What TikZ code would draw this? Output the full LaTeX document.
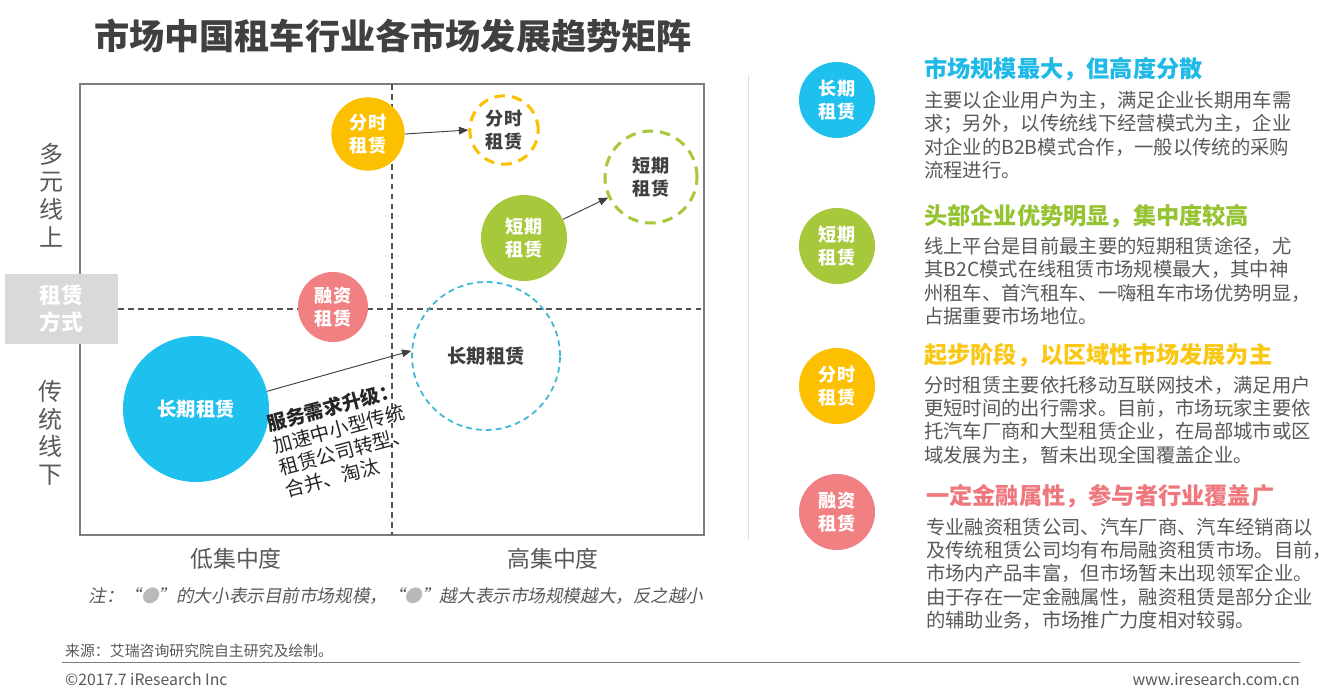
\documentclass[tikz,border=0pt]{standalone}
\usepackage{fontspec}
\setmainfont{Noto Sans CJK SC}
\newfontfamily\slantcjk[FakeSlant=0.2]{Noto Sans CJK SC}
\usepackage{xcolor}
\usetikzlibrary{arrows.meta}
\definecolor{cblue}{RGB}{30,192,238}
\definecolor{cgreen}{RGB}{166,200,58}
\definecolor{cyellow}{RGB}{252,192,0}
\definecolor{cpink}{RGB}{240,128,130}
\definecolor{rblue}{RGB}{60,185,215}
\definecolor{hblue}{RGB}{30,185,230}
\definecolor{hgreen}{RGB}{150,195,50}
\definecolor{hyellow}{RGB}{250,200,20}
\definecolor{hpink}{RGB}{238,120,125}
\definecolor{txtgray}{RGB}{89,89,89}
\definecolor{ttlgray}{RGB}{64,64,64}
\definecolor{boxgray}{RGB}{217,217,217}
\definecolor{linegray}{RGB}{125,125,125}

\begin{document}
\begin{tikzpicture}[x=0.03cm, y=-0.03cm,
        every node/.style={inner sep=0pt, text=txtgray},
        ball/.style={circle, text=white, align=center, font=\fontsize{15.5}{19.6}\selectfont\bfseries},
        ring/.style={circle, draw, dash pattern=on 9pt off 6pt, line width=2.6pt, text=ttlgray, align=center, font=\fontsize{15.5}{19.6}\selectfont\bfseries},
        arr/.style={-{Triangle[length=8pt, width=6.5pt]}, line width=0.8pt, draw=ttlgray},
        cross/.style={draw=ttlgray!90, line width=1.1pt, dash pattern=on 5pt off 3.5pt},
        axis/.style={align=center, font=\fontsize{20.5}{23.5}\selectfont},
        head/.style={anchor=west, font=\fontsize{19.8}{22}\selectfont\bfseries},
        body/.style={anchor=north west, align=left, font=\fontsize{16.5}{19.8}\selectfont}]
      \useasboundingbox[fill=white] (0,0) rectangle (1336,699);

      % title
      \node[text=ttlgray, font=\fontsize{30}{33}\selectfont\bfseries] (title) at (393,36) {市场中国租车行业各市场发展趋势矩阵};

      % matrix frame and cross lines
      \draw[linegray, line width=0.9pt] (80,84) rectangle (704,535);
      \coordinate (vtop) at (392,84);
      \coordinate (vbot) at (392,535);
      \coordinate (hleft) at (118,309);
      \coordinate (hright) at (704,309);
      \draw[cross] (vtop) -- (vbot);
      \draw[cross] (hleft) -- (hright);

      \node[fill=boxgray, minimum width=113*0.03cm, minimum height=70*0.03cm, text=white, align=center,
            font=\fontsize{18.5}{23.5}\selectfont\bfseries] (mode) at (61.5,309) {租赁\\方式};
      \node[axis] (online) at (52,195) {多\\元\\线\\上};
      \node[axis] (offline) at (51,433) {传\\统\\线\\下};
      \node[font=\fontsize{19.5}{22}\selectfont] (low) at (236,559) {低集中度};
      \node[font=\fontsize{19.5}{22}\selectfont] (high) at (553,559) {高集中度};

      % bubbles
      \node[ball, fill=cyellow, minimum size=2.2cm] (fenA) at (368,134) {分时\\租赁};
      \node[ring, draw=cyellow, minimum size=2.05cm] (fenB) at (504,130) {分时\\租赁};
      \node[ring, draw=cgreen, minimum size=2.76cm] (duanB) at (651,177) {短期\\租赁};
      \node[ball, fill=cgreen, minimum size=2.58cm] (duanA) at (524,238) {短期\\租赁};
      \node[ball, fill=cpink, minimum size=2.1cm] (rong) at (333,307) {融资\\租赁};
      \node[ring, draw=rblue, line width=1.5pt, dash pattern=on 5pt off 3.5pt, minimum size=4.44cm,
            font=\fontsize{16.5}{19.6}\selectfont\bfseries] (changB) at (486,356) {长期租赁};
      \node[ball, fill=cblue, minimum size=4.38cm, font=\fontsize{16.5}{19.6}\selectfont\bfseries] (changA) at (196,409) {长期租赁};

      \draw[arr] (fenA.east) -- (fenB.west);
      \draw[arr] (duanA) -- (duanB);
      \draw[arr] (changA.14) -- (changB.176);

      \node[anchor=north west, rotate=15, align=left, text=black!85, font=\fontsize{16.5}{19.6}\selectfont] (upgrade) at (265,415)
            {\textbf{服务需求升级：}\\加速中小型传统\\租赁公司转型、\\合并、淘汰};

      % note and footer
      \node[font=\fontsize{15}{18}\selectfont\slantcjk] (note) at (396,596)
            {注：“{\color{gray!55}●}”的大小表示目前市场规模，“{\color{gray!55}●}”越大表示市场规模越大，反之越小};
      \node[anchor=west, font=\fontsize{12.7}{15}\selectfont] (source) at (65,651) {来源：艾瑞咨询研究院自主研究及绘制。};
      \draw[linegray, line width=0.8pt] (62,662) -- (1300,662);
      \node[anchor=west, font=\fontsize{13.5}{16}\selectfont] (copy) at (65,679) {©2017.7 iResearch Inc};
      \node[anchor=east, font=\fontsize{13.5}{16}\selectfont] (web) at (1300,679) {www.iresearch.com.cn};
      \draw[gray!25, line width=0.8pt] (748,75) -- (748,540);

      % legend on the right
      \node[ball, fill=cblue, minimum size=2.28cm] (kChang) at (837,100) {长期\\租赁};
      \node[ball, fill=cgreen, minimum size=2.28cm] (kDuan) at (837,246) {短期\\租赁};
      \node[ball, fill=cyellow, minimum size=2.28cm] (kFen) at (837,386) {分时\\租赁};
      \node[ball, fill=cpink, minimum size=2.28cm] (kRong) at (837,512) {融资\\租赁};

      \node[head, text=hblue] (hChang) at (924,69) {市场规模最大，但高度分散};
      \node[body] (tChang) at (924,91) {主要以企业用户为主，满足企业长期用车需\\求；另外，以传统线下经营模式为主，企业\\对企业的B2B模式合作，一般以传统的采购\\流程进行。};
      \node[head, text=hgreen] (hDuan) at (924,216) {头部企业优势明显，集中度较高};
      \node[body] (tDuan) at (924,237) {线上平台是目前最主要的短期租赁途径，尤\\其B2C模式在线租赁市场规模最大，其中神\\州租车、首汽租车、一嗨租车市场优势明显，\\占据重要市场地位。};
      \node[head, text=hyellow] (hFen) at (924,355) {起步阶段，以区域性市场发展为主};
      \node[body] (tFen) at (924,376) {分时租赁主要依托移动互联网技术，满足用户\\更短时间的出行需求。目前，市场玩家主要依\\托汽车厂商和大型租赁企业，在局部城市或区\\域发展为主，暂未出现全国覆盖企业。};
      \node[head, text=hpink] (hRong) at (926,496) {一定金融属性，参与者行业覆盖广};
      \node[body] (tRong) at (926,518) {专业融资租赁公司、汽车厂商、汽车经销商以\\及传统租赁公司均有布局融资租赁市场。目前，\\市场内产品丰富，但市场暂未出现领军企业。\\由于存在一定金融属性，融资租赁是部分企业\\的辅助业务，市场推广力度相对较弱。};
    \end{tikzpicture}
\end{document}
